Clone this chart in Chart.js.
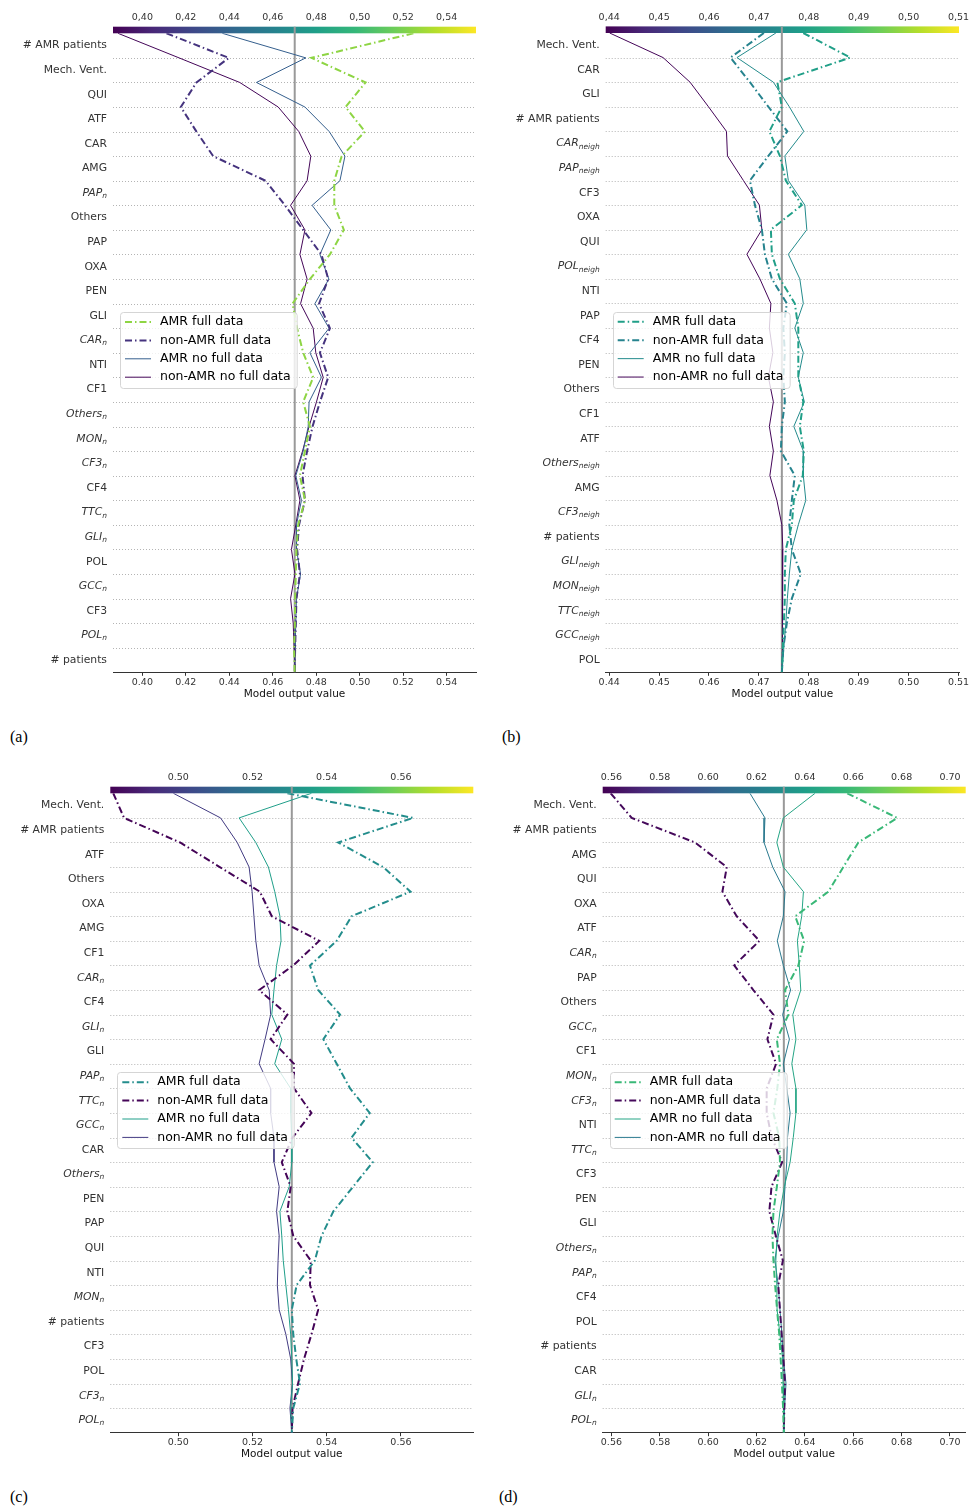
<!DOCTYPE html>
<html lang="en">
<head>
<meta charset="utf-8">
<title>Decision plots</title>
<script src="https://cdn.jsdelivr.net/npm/chart.js@4.4.1/dist/chart.umd.min.js"></script>
<style>
    body { margin: 0; background: #fff; }
    .local { position: absolute; }
    .letra { position: absolute; font-family: "Liberation Serif", serif; font-size: 16px; line-height: 1; color: #000; }
</style>
</head>
<body>
<div class="local" style="left:0;top:0;width:485px;height:710px"><canvas id="graficoA"></canvas></div>
<div class="local" style="left:490px;top:0;width:479px;height:710px"><canvas id="graficoB"></canvas></div>
<div class="local" style="left:0;top:760px;width:485px;height:710px"><canvas id="graficoC"></canvas></div>
<div class="local" style="left:490px;top:760px;width:479px;height:710px"><canvas id="graficoD"></canvas></div>
<div class="letra" style="left:10px;top:729px">(a)</div>
<div class="letra" style="left:502px;top:729px">(b)</div>
<div class="letra" style="left:10px;top:1489px">(c)</div>
<div class="letra" style="left:499px;top:1489px">(d)</div>
<script>
// nomes das séries (mesma ordem em todos os painéis)
const legendas = ['AMR full data', 'non-AMR full data', 'AMR no full data', 'non-AMR no full data'];

// ---------- painel (a) ----------
// variáveis de cima para baixo
const variaveisA = ['# AMR patients', 'Mech. Vent.', 'QUI', 'ATF', 'CAR', 'AMG', 'PAP_n', 'Others', 'PAP', 'OXA', 'PEN', 'GLI', 'CAR_n', 'NTI', 'CF1', 'Others_n', 'MON_n', 'CF3_n', 'CF4', 'TTC_n', 'GLI_n', 'POL', 'GCC_n', 'CF3', 'POL_n', '# patients'];
// valores acumulados: o primeiro é a saída final (topo), o último é o valor base (embaixo)
const amrCompletoA = [0.5247, 0.4778, 0.5027, 0.4935, 0.5024, 0.4917, 0.4883, 0.4883, 0.4927, 0.4863, 0.4771, 0.4691, 0.4712, 0.4740, 0.4786, 0.4740, 0.4771, 0.4748, 0.4725, 0.4748, 0.4717, 0.4709, 0.4706, 0.4703, 0.4702, 0.4698, 0.4701];
const naoAmrCompletoA = [0.4111, 0.4398, 0.4249, 0.4177, 0.4249, 0.4326, 0.4567, 0.4656, 0.4740, 0.4824, 0.4855, 0.4813, 0.4863, 0.4817, 0.4855, 0.4817, 0.4783, 0.4758, 0.4737, 0.4748, 0.4721, 0.4712, 0.4725, 0.4709, 0.4706, 0.4703, 0.4701];
const amrIncompletoA = [0.4368, 0.4752, 0.4525, 0.4748, 0.4860, 0.4932, 0.4909, 0.4781, 0.4867, 0.4817, 0.4858, 0.4794, 0.4859, 0.4771, 0.4824, 0.4767, 0.4763, 0.4740, 0.4706, 0.4732, 0.4709, 0.4709, 0.4728, 0.4709, 0.4706, 0.4703, 0.4701];
const naoAmrIncompletoA = [0.3888, 0.4169, 0.4448, 0.4625, 0.4720, 0.4775, 0.4758, 0.4682, 0.4748, 0.4725, 0.4758, 0.4728, 0.4786, 0.4798, 0.4832, 0.4801, 0.4767, 0.4737, 0.4702, 0.4725, 0.4706, 0.4686, 0.4702, 0.4682, 0.4694, 0.4698, 0.4701];
const valorBaseA = 0.4701;
const marcasA = [0.40, 0.42, 0.44, 0.46, 0.48, 0.50, 0.52, 0.54];
const limitesA = [0.3865, 0.5535];

// ---------- painel (b) ----------
const variaveisB = ['Mech. Vent.', 'CAR', 'GLI', '# AMR patients', 'CAR_neigh', 'PAP_neigh', 'CF3', 'OXA', 'QUI', 'POL_neigh', 'NTI', 'PAP', 'CF4', 'PEN', 'Others', 'CF1', 'ATF', 'Others_neigh', 'AMG', 'CF3_neigh', '# patients', 'GLI_neigh', 'MON_neigh', 'TTC_neigh', 'GCC_neigh', 'POL'];
const amrCompletoB = [0.4789, 0.4883, 0.4737, 0.4746, 0.4721, 0.4742, 0.4754, 0.4786, 0.4724, 0.4726, 0.4742, 0.4772, 0.4779, 0.4779, 0.4779, 0.4789, 0.4782, 0.4790, 0.4788, 0.4770, 0.4766, 0.4754, 0.4752, 0.4752, 0.4750, 0.4748, 0.4746];
const naoAmrCompletoB = [0.4710, 0.4643, 0.4682, 0.4719, 0.4757, 0.4719, 0.4682, 0.4692, 0.4706, 0.4712, 0.4726, 0.4756, 0.4749, 0.4752, 0.4749, 0.4752, 0.4746, 0.4744, 0.4772, 0.4766, 0.4761, 0.4766, 0.4784, 0.4766, 0.4756, 0.4749, 0.4746];
const amrIncompletoB = [0.4734, 0.4656, 0.4729, 0.4761, 0.4790, 0.4752, 0.4759, 0.4792, 0.4796, 0.4759, 0.4782, 0.4789, 0.4772, 0.4789, 0.4779, 0.4791, 0.4770, 0.4789, 0.4789, 0.4794, 0.4779, 0.4766, 0.4761, 0.4757, 0.4754, 0.4750, 0.4746];
const naoAmrIncompletoB = [0.4401, 0.4508, 0.4562, 0.4599, 0.4635, 0.4637, 0.4669, 0.4701, 0.4706, 0.4676, 0.4702, 0.4724, 0.4721, 0.4728, 0.4719, 0.4729, 0.4721, 0.4729, 0.4722, 0.4736, 0.4746, 0.4748, 0.4748, 0.4747, 0.4747, 0.4747, 0.4746];
const valorBaseB = 0.4746;
const marcasB = [0.44, 0.45, 0.46, 0.47, 0.48, 0.49, 0.50, 0.51];
const limitesB = [0.4393, 0.5101];

// ---------- painel (c) ----------
const variaveisC = ['Mech. Vent.', '# AMR patients', 'ATF', 'Others', 'OXA', 'AMG', 'CF1', 'CAR_n', 'CF4', 'GLI_n', 'GLI', 'PAP_n', 'TTC_n', 'GCC_n', 'CAR', 'Others_n', 'PEN', 'PAP', 'QUI', 'NTI', 'MON_n', '# patients', 'CF3', 'POL', 'CF3_n', 'POL_n'];
const amrCompletoC = [0.5294, 0.5633, 0.5431, 0.5552, 0.5626, 0.5467, 0.5427, 0.5355, 0.5377, 0.5436, 0.5391, 0.5427, 0.5463, 0.5516, 0.5467, 0.5524, 0.5471, 0.5418, 0.5386, 0.5368, 0.5319, 0.5306, 0.5310, 0.5318, 0.5328, 0.5310, 0.5306];
const naoAmrCompletoC = [0.4825, 0.4854, 0.5005, 0.5112, 0.5220, 0.5252, 0.5380, 0.5310, 0.5218, 0.5294, 0.5249, 0.5312, 0.5312, 0.5359, 0.5308, 0.5279, 0.5303, 0.5294, 0.5310, 0.5357, 0.5355, 0.5377, 0.5359, 0.5339, 0.5323, 0.5308, 0.5306];
const amrIncompletoC = [0.5359, 0.5164, 0.5209, 0.5243, 0.5260, 0.5274, 0.5277, 0.5265, 0.5258, 0.5252, 0.5279, 0.5260, 0.5303, 0.5303, 0.5306, 0.5306, 0.5299, 0.5274, 0.5279, 0.5283, 0.5290, 0.5297, 0.5303, 0.5306, 0.5308, 0.5303, 0.5306];
const naoAmrIncompletoC = [0.4987, 0.5114, 0.5159, 0.5191, 0.5199, 0.5204, 0.5209, 0.5218, 0.5245, 0.5249, 0.5234, 0.5218, 0.5249, 0.5249, 0.5258, 0.5258, 0.5272, 0.5265, 0.5272, 0.5269, 0.5267, 0.5272, 0.5290, 0.5303, 0.5308, 0.5301, 0.5306];
const valorBaseC = 0.5306;
const marcasC = [0.50, 0.52, 0.54, 0.56];
const limitesC = [0.4817, 0.5795];

// ---------- painel (d) ----------
const variaveisD = ['Mech. Vent.', '# AMR patients', 'AMG', 'QUI', 'OXA', 'ATF', 'CAR_n', 'PAP', 'Others', 'GCC_n', 'CF1', 'MON_n', 'CF3_n', 'NTI', 'TTC_n', 'CF3', 'PEN', 'GLI', 'Others_n', 'PAP_n', 'CF4', 'POL', '# patients', 'CAR', 'GLI_n', 'POL_n'];
const amrCompletoD = [0.6575, 0.6782, 0.6621, 0.6559, 0.6497, 0.6360, 0.6397, 0.6373, 0.6318, 0.6332, 0.6284, 0.6297, 0.6286, 0.6270, 0.6294, 0.6297, 0.6284, 0.6270, 0.6266, 0.6270, 0.6277, 0.6285, 0.6294, 0.6300, 0.6305, 0.6310, 0.6313];
const naoAmrCompletoD = [0.5597, 0.5684, 0.5946, 0.6077, 0.6059, 0.6118, 0.6212, 0.6108, 0.6187, 0.6270, 0.6245, 0.6281, 0.6242, 0.6242, 0.6263, 0.6306, 0.6262, 0.6253, 0.6280, 0.6309, 0.6290, 0.6297, 0.6304, 0.6311, 0.6318, 0.6315, 0.6313];
const amrIncompletoD = [0.6442, 0.6311, 0.6284, 0.6311, 0.6394, 0.6387, 0.6369, 0.6377, 0.6383, 0.6350, 0.6363, 0.6346, 0.6363, 0.6363, 0.6352, 0.6339, 0.6315, 0.6297, 0.6285, 0.6280, 0.6284, 0.6285, 0.6297, 0.6308, 0.6310, 0.6313, 0.6313];
const naoAmrIncompletoD = [0.6173, 0.6235, 0.6231, 0.6267, 0.6318, 0.6311, 0.6286, 0.6311, 0.6341, 0.6308, 0.6336, 0.6311, 0.6325, 0.6339, 0.6328, 0.6325, 0.6318, 0.6311, 0.6290, 0.6276, 0.6290, 0.6297, 0.6305, 0.6311, 0.6322, 0.6316, 0.6313];
const valorBaseD = 0.6313;
const marcasD = [0.56, 0.58, 0.60, 0.62, 0.64, 0.66, 0.68, 0.70];
const limitesD = [0.5564, 0.7065];

// paleta viridis (usada na barra de cores e nas linhas)
const paleta = ['#440154', '#482878', '#3e4989', '#31688e', '#26828e', '#1f9e89', '#35b779', '#6ece58', '#b5de2b', '#fde725'];
const fonte = '"DejaVu Sans"';

function viridis(t) {
    t = Math.min(1, Math.max(0, t));
    const p = t * (paleta.length - 1);
    const i = Math.min(Math.floor(p), paleta.length - 2);
    const f = p - i;
    const a = paleta[i], b = paleta[i + 1];
    const c = [1, 3, 5].map(k => Math.round(parseInt(a.substr(k, 2), 16) * (1 - f) + parseInt(b.substr(k, 2), 16) * f));
    return `rgb(${c[0]},${c[1]},${c[2]})`;
}

// desenha grade pontilhada, barra de cores, linha base, nomes das variáveis e legenda
const pluginDecisao = {
    id: 'decisao',
    beforeDatasetsDraw(chart, args, op) {
        const { ctx, chartArea: a } = chart;
        const y = chart.scales.y, x = chart.scales.x;
        ctx.save();
        ctx.strokeStyle = '#b4b4b4';
        ctx.lineWidth = 1;
        ctx.setLineDash([1, 2]);
        for (let i = 1; i < op.n; i++) {
            const py = Math.round(y.getPixelForValue(i)) + 0.5;
            ctx.beginPath();
            ctx.moveTo(a.left, py);
            ctx.lineTo(a.right, py);
            ctx.stroke();
        }
        ctx.setLineDash([]);
        const grad = ctx.createLinearGradient(a.left, 0, a.right, 0);
        paleta.forEach((c, i) => grad.addColorStop(i / (paleta.length - 1), c));
        ctx.fillStyle = grad;
        ctx.fillRect(a.left, a.top - 6.6, a.right - a.left, 6.6);
        const px = x.getPixelForValue(op.base);
        ctx.strokeStyle = '#999999';
        ctx.lineWidth = 2;
        ctx.beginPath();
        ctx.moveTo(px, a.top - 6.6);
        ctx.lineTo(px, a.bottom);
        ctx.stroke();
        ctx.restore();
    },
    afterDraw(chart, args, op) {
        const { ctx, chartArea: a } = chart;
        const y = chart.scales.y;
        ctx.save();
        ctx.fillStyle = '#333333';
        ctx.textBaseline = 'middle';
        ctx.textAlign = 'left';
        // nomes das variáveis (com subscrito quando houver "_")
        op.variaveis.forEach((nome, j) => {
            const py = y.getPixelForValue(op.n - j - 0.5);
            const xd = a.left - 6;
            const partes = nome.split('_');
            if (partes.length == 1) {
                ctx.font = `10.8px ${fonte}`;
                ctx.fillText(nome, xd - ctx.measureText(nome).width, py);
            } else {
                ctx.font = `italic 10.8px ${fonte}`;
                const w1 = ctx.measureText(partes[0]).width;
                ctx.font = `italic 7.5px ${fonte}`;
                const w2 = ctx.measureText(partes[1]).width;
                ctx.font = `italic 10.8px ${fonte}`;
                ctx.fillText(partes[0], xd - w1 - w2, py);
                ctx.font = `italic 7.5px ${fonte}`;
                ctx.fillText(partes[1], xd - w2, py + 3);
            }
        });
        // legenda dentro do gráfico
        const leg = chart.data.datasets;
        ctx.font = `12.5px ${fonte}`;
        const larg = Math.max(...leg.map(d => ctx.measureText(d.label).width));
        const h = 76, w = larg + 46;
        const x0 = a.left + 7;
        const y0 = (a.top + a.bottom) / 2 - 2.6 - h / 2;
        ctx.fillStyle = 'rgba(255,255,255,0.8)';
        ctx.strokeStyle = '#d5d5d5';
        ctx.lineWidth = 1;
        ctx.beginPath();
        if (ctx.roundRect) ctx.roundRect(Math.round(x0) + 0.5, Math.round(y0) + 0.5, w, h, 3);
        else ctx.rect(Math.round(x0) + 0.5, Math.round(y0) + 0.5, w, h);
        ctx.fill();
        ctx.stroke();
        leg.forEach((d, i) => {
            const py = y0 + 9.8 + i * 18.4;
            ctx.strokeStyle = d.borderColor;
            ctx.lineWidth = d.borderWidth;
            ctx.setLineDash(d.borderDash);
            ctx.beginPath();
            ctx.moveTo(x0 + 5, py);
            ctx.lineTo(x0 + 31, py);
            ctx.stroke();
            ctx.setLineDash([]);
            ctx.fillStyle = '#000000';
            ctx.fillText(d.label, x0 + 40, py);
        });
        ctx.restore();
    }
};

class Graficos {
    static FazerDecisao(idGrafico, variaveis, series, base, limites, marcas, separador, area, largura, altura) {
        const n = variaveis.length;
        // cada série vira uma linha; a cor vem do valor final na escala viridis
        const datasets = series.map((valores, s) => {
            const tracejado = s < 2;
            return {
                label: legendas[s],
                data: valores.map((v, j) => ({ x: v, y: n - j })),
                showLine: true,
                pointRadius: 0,
                tension: 0,
                fill: false,
                borderColor: viridis((valores[0] - limites[0]) / (limites[1] - limites[0])),
                borderWidth: tracejado ? 2 : 1,
                borderDash: tracejado ? [7, 3, 1.5, 3] : []
            };
        });
        const fixarMarcas = s => { s.ticks = marcas.map(v => ({ value: v })); };
        const config = {
            type: 'scatter',
            data: { datasets: datasets },
            options: {
                responsive: true,
                maintainAspectRatio: false,
                animation: false,
                layout: { padding: { left: 0, top: 0, bottom: 0, right: largura - area.dir } },
                plugins: {
                    legend: { display: false },
                    tooltip: { enabled: false },
                    decisao: { n: n, variaveis: variaveis, base: base }
                },
                scales: {
                    x: {
                        type: 'linear', position: 'bottom', min: limites[0], max: limites[1],
                        afterBuildTicks: fixarMarcas,
                        ticks: { callback: v => v.toFixed(2), font: { family: fonte, size: 9.5 }, color: '#333333', padding: 1, maxRotation: 0, autoSkip: false },
                        grid: { drawOnChartArea: false, drawTicks: true, tickLength: 3.5, color: '#333333' },
                        border: { display: true, color: '#333333', width: 1 },
                        title: { display: true, text: 'Model output value', font: { family: fonte, size: 10.5 }, color: '#111111', padding: { top: 0, bottom: 9 } },
                        afterFit: s => { s.height = altura - area.base; s.paddingLeft = 0; s.paddingRight = 0; }
                    },
                    x2: {
                        type: 'linear', position: 'top', min: limites[0], max: limites[1],
                        afterBuildTicks: fixarMarcas,
                        ticks: { callback: v => v.toFixed(2).replace('.', separador), font: { family: fonte, size: 9.5 }, color: '#333333', padding: 2, maxRotation: 0, autoSkip: false },
                        grid: { display: false },
                        border: { display: false },
                        afterFit: s => { s.height = area.topo; s.paddingLeft = 0; s.paddingRight = 0; }
                    },
                    y: {
                        type: 'linear', min: 0, max: n,
                        ticks: { display: false },
                        grid: { display: false },
                        border: { display: false },
                        afterFit: s => { s.width = area.esq; }
                    }
                }
            },
            plugins: [pluginDecisao]
        };
        new Chart(document.getElementById(idGrafico), config);
    }
}

Graficos.FazerDecisao('graficoA', variaveisA, [amrCompletoA, naoAmrCompletoA, amrIncompletoA, naoAmrIncompletoA],
    valorBaseA, limitesA, marcasA, ',', { esq: 113, dir: 476, topo: 33.3, base: 672.3 }, 485, 710);
Graficos.FazerDecisao('graficoB', variaveisB, [amrCompletoB, naoAmrCompletoB, amrIncompletoB, naoAmrIncompletoB],
    valorBaseB, limitesB, marcasB, ',', { esq: 115.7, dir: 469, topo: 33, base: 672.3 }, 479, 710);
Graficos.FazerDecisao('graficoC', variaveisC, [amrCompletoC, naoAmrCompletoC, amrIncompletoC, naoAmrIncompletoC],
    valorBaseC, limitesC, marcasC, '.', { esq: 110.3, dir: 473.3, topo: 33.3, base: 672.7 }, 485, 710);
Graficos.FazerDecisao('graficoD', variaveisD, [amrCompletoD, naoAmrCompletoD, amrIncompletoD, naoAmrIncompletoD],
    valorBaseD, limitesD, marcasD, '.', { esq: 112.7, dir: 475.7, topo: 33.3, base: 672.7 }, 479, 710);
</script>
</body>
</html>
